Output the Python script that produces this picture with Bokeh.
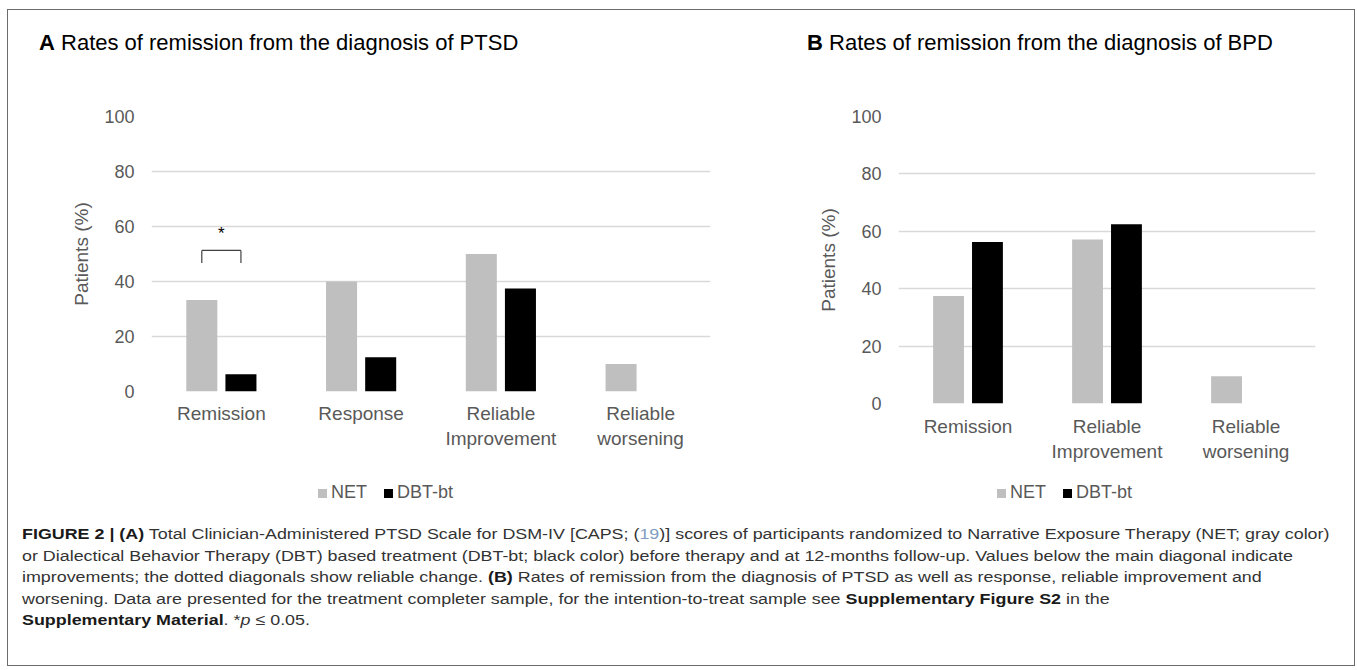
from bokeh.plotting import figure
from bokeh.models import Range1d, FactorRange, Div, FixedTicker, ColumnDataSource
from bokeh.transform import dodge
from bokeh.layouts import row, column
from bokeh.embed import file_html
from bokeh.resources import INLINE
from bokeh.core.properties import value

# ---------------- data ----------------
series = ["NET", "DBT-bt"]
cats_a = ["Remission", "Response", "Reliable\nImprovement", "Reliable\nworsening"]
net_a = [33.3, 40.0, 50.0, 10.0]
dbt_a = [6.25, 12.5, 37.5, 0.0]

cats_b = ["Remission", "Reliable\nImprovement", "Reliable\nworsening"]
net_b = [37.5, 57.1, 9.5]
dbt_b = [56.25, 62.5, 0.0]

y_ticks = [0, 20, 40, 60, 80, 100]
sig_cat = ["Remission"]
sig_top = [51.3]
sig_bottom = [46.7]
sig_star = [57.5]

title_a = ("A", "Rates of remission from the diagnosis of PTSD")
title_b = ("B", "Rates of remission from the diagnosis of BPD")

# ---------------- style ----------------
FONT = "Liberation Sans"
TXT = "#595959"
C_NET = "#bfbfbf"
C_DBT = "#000000"
GRID = "#d9d9d9"
OFF = 0.14
BW = 0.222

TOP = 10          # page y of panel tops
TITLE_H = 66
FIG_H = 402
LEG_H = 28
FRAME_TOP = 116


def make_panel(cats, W, left, fl, fr, fb, tick_right, xstand):
    fig_top = TOP + TITLE_H
    p = figure(x_range=FactorRange(*cats), y_range=Range1d(0, 100),
               width=W, height=FIG_H, output_backend="svg", toolbar_location=None,
               min_border_left=fl - left, min_border_right=left + W - fr,
               min_border_top=FRAME_TOP - fig_top,
               min_border_bottom=fig_top + FIG_H - fb,
               margin=0)
    p.outline_line_color = None
    p.background_fill_color = "white"
    p.border_fill_color = "white"

    p.xgrid.grid_line_color = None
    p.ygrid.grid_line_color = GRID
    p.ygrid.grid_line_width = 1.5
    p.yaxis.ticker = FixedTicker(ticks=y_ticks)
    for ax in (p.xaxis[0], p.yaxis[0]):
        ax.axis_line_color = None
        ax.major_tick_line_color = None
        ax.minor_tick_line_color = None
        ax.major_tick_out = 0
        ax.major_tick_in = 0
        ax.minor_tick_out = 0
        ax.major_label_text_font = FONT
        ax.major_label_text_color = TXT
    p.yaxis.major_label_text_font_size = "18px"
    p.xaxis.major_label_text_font_size = "19px"
    p.yaxis.major_label_standoff = fl - tick_right
    p.xaxis.major_label_standoff = xstand
    p.yaxis.axis_label = "Patients (%)"
    p.yaxis.axis_label_text_font = FONT
    p.yaxis.axis_label_text_font_size = "19px"
    p.yaxis.axis_label_text_font_style = "normal"
    p.yaxis.axis_label_text_color = TXT
    p.yaxis.axis_label_standoff = 9
    return p


def add_bars(p, cats, net, dbt):
    src = ColumnDataSource(dict(cat=cats, net=net, dbt=dbt))
    p.vbar(x=dodge("cat", -OFF, range=p.x_range), top="net", width=BW, source=src,
           fill_color=C_NET, line_color=None)
    p.vbar(x=dodge("cat", OFF, range=p.x_range), top="dbt", width=BW, source=src,
           fill_color=C_DBT, line_color=None)


def title_div(title, W, pad_left):
    html = ('<div style="font-family:\'Liberation Sans\',sans-serif;font-size:22px;'
            'line-height:26px;color:#000;white-space:nowrap;padding-top:20px;'
            'padding-left:%dpx;"><b>%s</b>&nbsp;%s</div>' % (pad_left, title[0], title[1]))
    return Div(text=html, width=W, height=TITLE_H, margin=0)


def legend_div(W, pad_left):
    sq = ('<span style="display:inline-block;width:9px;height:9px;background:%s;'
          'margin-right:4px;"></span>')
    html = ('<div style="font-family:\'Liberation Sans\',sans-serif;font-size:18px;'
            'color:%s;white-space:nowrap;display:flex;align-items:center;height:30px;'
            'padding-left:%dpx;">%s<span>%s</span>'
            '<span style="display:inline-block;width:17px;"></span>%s<span>%s</span></div>'
            % (TXT, pad_left, sq % C_NET, series[0], sq % C_DBT, series[1]))
    return Div(text=html, width=W, height=LEG_H, margin=0)


W_A, W_B, H_CAP = 721, 625, 159
LEFT_A, LEFT_B = 8, 8 + W_A

pA = make_panel(cats_a, W_A, LEFT_A, 151, 710, 391, 134, 11)
add_bars(pA, cats_a, net_a, dbt_a)
pB = make_panel(cats_b, W_B, LEFT_B, 898, 1315, 403, 881, 12)
add_bars(pB, cats_b, net_b, dbt_b)

# significance bracket on panel A
sig = ColumnDataSource(dict(cat=sig_cat, top=sig_top, bottom=sig_bottom, star=sig_star))
for a, b, y0, y1 in [(-OFF, OFF, "top", "top"), (-OFF, -OFF, "top", "bottom"), (OFF, OFF, "top", "bottom")]:
    pA.segment(x0=dodge("cat", a, range=pA.x_range), x1=dodge("cat", b, range=pA.x_range),
               y0=y0, y1=y1, source=sig, line_color="#404040", line_width=1.2)
pA.text(x="cat", y="star", text=value("*"), source=sig, text_font=value(FONT),
        text_font_size="17px", text_color="#000000", text_align="center",
        text_baseline="middle")

colA = column(title_div(title_a, W_A, 39 - LEFT_A), pA, legend_div(W_A, 318 - LEFT_A), margin=0)
colB = column(title_div(title_b, W_B, 807 - LEFT_B), pB, legend_div(W_B, 997 - LEFT_B), margin=0)

caption_html = (
    '<div style="font-family:\'Liberation Sans\',sans-serif;'
    'font-size:15.5px;line-height:21.5px;color:#333333;white-space:nowrap;'
    'padding-top:17px;padding-left:14px;">'
    '<div style="transform:scaleX(1.153);transform-origin:0 0;">'
    '<b style="color:#1a1a1a">FIGURE 2 | (A)</b> Total Clinician-Administered PTSD Scale for DSM-IV '
    '[CAPS; (<span style="color:#7f9cc0">19</span>)] scores of participants randomized to Narrative '
    'Exposure Therapy (NET; gray color)<br>'
    'or Dialectical Behavior Therapy (DBT) based treatment (DBT-bt; black color) before therapy and at '
    '12-months follow-up. Values below the main diagonal indicate<br>'
    'improvements; the dotted diagonals show reliable change. <b style="color:#1a1a1a">(B)</b> Rates of '
    'remission from the diagnosis of PTSD as well as response, reliable improvement and<br>'
    'worsening. Data are presented for the treatment completer sample, for the intention-to-treat '
    'sample see <b style="color:#1a1a1a">Supplementary Figure S2</b> in the<br>'
    '<b style="color:#1a1a1a">Supplementary Material</b>. *<i>p</i> \u2264 0.05.'
    '</div></div>'
)
caption = Div(text=caption_html, width=W_A + W_B, height=H_CAP, margin=0)

layout = column(row(colA, colB, margin=0), caption,
                width=W_A + W_B + 2, height=TITLE_H + FIG_H + LEG_H + H_CAP + 2,
                margin=(9, 0, 0, 7),
                styles={"border": "1px solid #6b6b6b", "background-color": "white"})

open("out.html", "w").write(file_html(layout, INLINE))
